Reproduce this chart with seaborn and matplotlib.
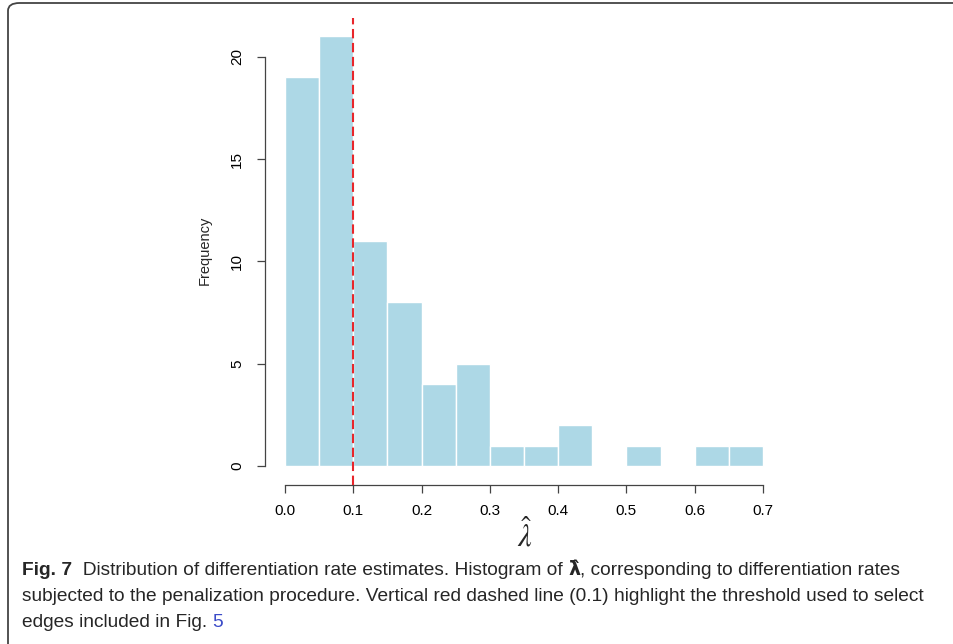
import matplotlib
matplotlib.use('Agg')
import matplotlib.pyplot as plt
import seaborn as sns
from matplotlib.patches import FancyBboxPatch

# bin edges of the histogram (width 0.05) and the counts
bin_edges = [0.0, 0.05, 0.1, 0.15, 0.2, 0.25, 0.3, 0.35, 0.4, 0.45, 0.5, 0.55, 0.6, 0.65, 0.7]
bin_counts = [19, 21, 11, 8, 4, 5, 1, 1, 2, 0, 1, 0, 1, 1]
threshold = 0.1
x_ticks = [0.0, 0.1, 0.2, 0.3, 0.4, 0.5, 0.6, 0.7]
y_ticks = [0, 5, 10, 15, 20]

centers = [(a + b) / 2 for a, b in zip(bin_edges[:-1], bin_edges[1:])]

sns.set_style('ticks')
plt.rcParams['font.family'] = ['Liberation Sans', 'DejaVu Sans']
plt.rcParams['mathtext.fontset'] = 'stix'

W, H = 954, 644
fig = plt.figure(figsize=(W / 100, H / 100), dpi=100)

# axes box in pixels: left 265, right 783, top 18, bottom 485
ax = fig.add_axes([265 / W, 1 - 485 / H, (783 - 265) / W, (485 - 18) / H])

sns.histplot(x=centers, weights=bin_counts, bins=bin_edges, color='#ADD8E6',
             edgecolor='white', linewidth=1.0, alpha=1, ax=ax)
ax.axvline(threshold, color='#E8262B', linestyle=(0, (4.5, 2.2)), linewidth=1.5, zorder=5)

ax.set_xlim(-0.0293, 0.7293)
ax.set_ylim(-0.93, 21.9)
for s in ['top', 'right']:
    ax.spines[s].set_visible(False)
ax.spines['bottom'].set_bounds(0, 0.7)
ax.spines['left'].set_bounds(0, 20)
for s in ['bottom', 'left']:
    ax.spines[s].set_color('#444444')
    ax.spines[s].set_linewidth(0.9)

ax.set_xticks(x_ticks)
ax.set_xticklabels([f'{t:.1f}' for t in x_ticks])
ax.set_yticks(y_ticks)
ax.set_yticklabels([str(t) for t in y_ticks], rotation=90, va='center')
ax.tick_params(axis='both', direction='out', length=6, width=0.9, color='#444444',
               labelsize=11, labelcolor='black')
ax.tick_params(axis='x', pad=8)
ax.tick_params(axis='y', pad=9)
ax.set_xlabel('')
ax.set_ylabel('')

fig.text(205 / W, 1 - 250 / H, 'Frequency', rotation=90, ha='center', va='center', fontsize=10.5)
fig.text(525 / W, 1 - 536 / H, r'$\hat{\lambda}$', ha='center', va='center', fontsize=22)

# frame around the figure
frame = FancyBboxPatch((8 / W, -0.05), 1.1, 1 - 3 / H + 0.05,
                       boxstyle='round,pad=0,rounding_size=0.012',
                       transform=fig.transFigure, facecolor='none',
                       edgecolor='#444444', linewidth=1.3, clip_on=False)
fig.patches.append(frame)

# caption, written piece by piece so styles can change inside a line
cap_font = ['Liberation Sans', 'DejaVu Sans']
cs = 13.8
x0 = 22 / W
renderer = fig.canvas.get_renderer()


def caption_line(pieces, y_px):
    xpos = x0
    for txt, kw in pieces:
        opts = dict(fontsize=cs, family=cap_font, va='baseline', ha='left')
        opts.update(kw)
        tx = fig.text(xpos, 1 - y_px / H, txt, **opts)
        xpos += tx.get_window_extent(renderer).width / W


caption_line([
    ('Fig. 7', dict(fontweight='bold')),
    ('  Distribution of differentiation rate estimates. Histogram of ', {}),
    ('\u03bb\u0302', dict(fontweight='bold', family=['DejaVu Sans'])),
    (', corresponding to differentiation rates', {}),
], 575)
caption_line([
    ('subjected to the penalization procedure. Vertical red dashed line (0.1) '
     'highlight the threshold used to select', {}),
], 601)
caption_line([
    ('edges included in Fig. ', {}),
    ('5', dict(color='#3B4BC8')),
], 627)

fig.savefig('out.png', dpi=100)
